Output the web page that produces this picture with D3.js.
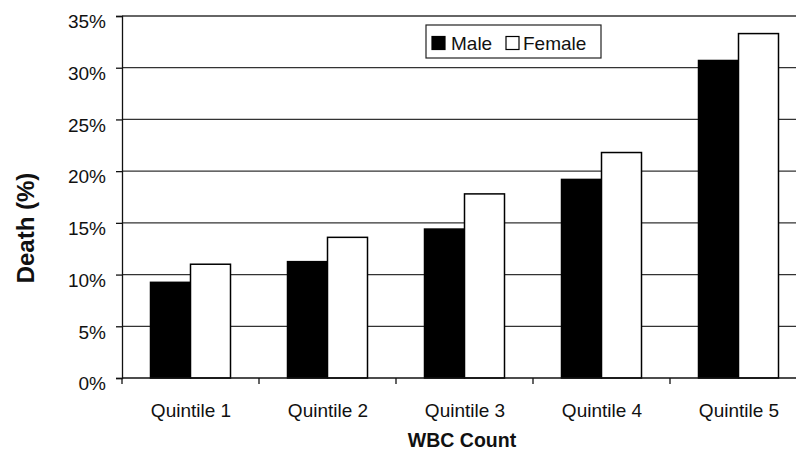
<!DOCTYPE html>
<html>
<head>
<meta charset="utf-8">
<script src="https://cdn.jsdelivr.net/npm/d3@7"></script>
<style>
  html, body { margin: 0; padding: 0; background: #fff; }
  svg { display: block; font-family: "Liberation Sans", Arial, sans-serif; }
</style>
</head>
<body>
<svg id="chart" width="796" height="452"></svg>
<script>
const categories = ["Quintile 1", "Quintile 2", "Quintile 3", "Quintile 4", "Quintile 5"];
const seriesNames = ["Male", "Female"];
const maleValues = [9.25, 11.25, 14.4, 19.2, 30.7];
const femaleValues = [11.0, 13.6, 17.8, 21.8, 33.3];
const yTicks = [0, 5, 10, 15, 20, 25, 30, 35];

const svg = d3.select("#chart");
const mLeft = 122, mRight = 807, mTop = 16, mBottom = 378;

const x = d3.scaleBand().domain(categories).range([mLeft, mRight]).padding(0);
const sub = d3.scaleBand().domain(seriesNames).range([28.5, 108.5]).padding(0);
const y = d3.scaleLinear().domain([0, 35]).range([mBottom, mTop]);

const fills = { Male: "#000", Female: "#fff" };

// gridlines
svg.append("g").selectAll("line").data(yTicks.filter(d => d > 0)).join("line")
  .attr("x1", mLeft).attr("x2", 796)
  .attr("y1", d => y(d)).attr("y2", d => y(d))
  .attr("stroke", "#333").attr("stroke-width", 1.3);

// y axis
const yAxis = svg.append("g").attr("transform", `translate(${mLeft},0)`)
  .call(d3.axisLeft(y).tickValues(yTicks).tickFormat(d => d + "%").tickSize(6).tickPadding(10));
yAxis.select(".domain").attr("stroke", "#111").attr("stroke-width", 1.3);
yAxis.selectAll(".tick line").attr("stroke", "#111").attr("stroke-width", 1.3);
yAxis.selectAll(".tick text").attr("font-size", 19).attr("fill", "#111")
  .attr("font-family", "Liberation Sans, Arial, sans-serif").attr("dy", "0.62em");

// bars
const data = categories.map((c, i) => ({ cat: c, vals: [
  { key: "Male", v: maleValues[i] }, { key: "Female", v: femaleValues[i] } ] }));

const groups = svg.append("g").selectAll("g").data(data).join("g")
  .attr("transform", d => `translate(${x(d.cat)},0)`);
groups.selectAll("rect").data(d => d.vals).join("rect")
  .attr("x", d => sub(d.key))
  .attr("width", sub.bandwidth())
  .attr("y", d => y(d.v))
  .attr("height", d => y(0) - y(d.v))
  .attr("fill", d => fills[d.key])
  .attr("stroke", "#000").attr("stroke-width", 1.5);

// x axis
const xAxisG = svg.append("g");
xAxisG.append("line").attr("x1", mLeft).attr("x2", 796).attr("y1", mBottom).attr("y2", mBottom)
  .attr("stroke", "#111").attr("stroke-width", 1.3);
xAxisG.selectAll("line.tk").data(categories).join("line").attr("class", "tk")
  .attr("x1", d => x(d)).attr("x2", d => x(d))
  .attr("y1", mBottom).attr("y2", mBottom + 6)
  .attr("stroke", "#111").attr("stroke-width", 1.3);
xAxisG.selectAll("text").data(categories).join("text")
  .attr("x", d => x(d) + x.bandwidth() / 2 + 0.5)
  .attr("y", 417)
  .attr("text-anchor", "middle").attr("font-size", 19).attr("fill", "#111")
  .text(d => d);

// axis titles
svg.append("text").attr("x", 462).attr("y", 447).attr("text-anchor", "middle")
  .attr("font-size", 19.5).attr("font-weight", "bold").attr("fill", "#111").text("WBC Count");
svg.append("text").attr("transform", "translate(34,228) rotate(-90)")
  .attr("text-anchor", "middle").attr("font-size", 24).attr("font-weight", "bold")
  .attr("fill", "#111").text("Death (%)");

// legend
const lg = svg.append("g");
lg.append("rect").attr("x", 426).attr("y", 25).attr("width", 175).attr("height", 33)
  .attr("fill", "#fff").attr("stroke", "#222").attr("stroke-width", 1.2);
const legendItems = [
  { key: "Male", sx: 432, tx: 451 },
  { key: "Female", sx: 506, tx: 523 }
];
lg.selectAll("rect.sw").data(legendItems).join("rect").attr("class", "sw")
  .attr("x", d => d.sx).attr("y", 36.5).attr("width", 13).attr("height", 13)
  .attr("fill", d => fills[d.key]).attr("stroke", "#000").attr("stroke-width", 1.2);
lg.selectAll("text").data(legendItems).join("text")
  .attr("x", d => d.tx).attr("y", 50).attr("font-size", 19).attr("fill", "#111")
  .text(d => d.key);
</script>
</body>
</html>
